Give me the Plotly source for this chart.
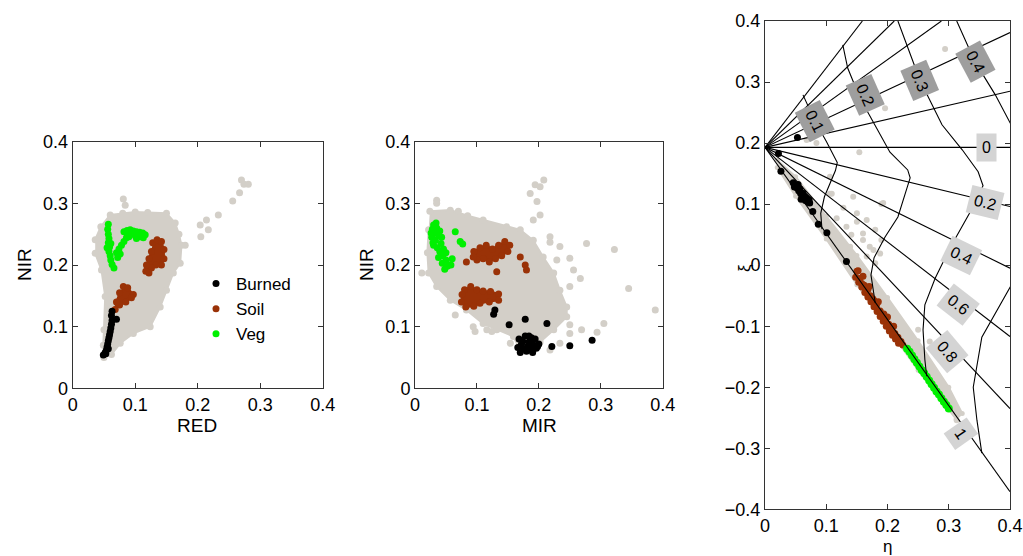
import plotly.graph_objects as go

FONT = "Liberation Sans, Arial, Helvetica, sans-serif"
GRAY = "#d3cfc8"
BROWN = "#9a3207"
GREEN = "#00f000"
BLACK = "#000000"

TICK_VALS_POS = [0, 0.1, 0.2, 0.3, 0.4]
TICK_TEXT_POS = ["0", "0.1", "0.2", "0.3", "0.4"]
TICK_VALS_XI = [-0.4, -0.3, -0.2, -0.1, 0, 0.1, 0.2, 0.3, 0.4]
TICK_TEXT_XI = ["\u22120.4", "\u22120.3", "\u22120.2", "\u22120.1", "0", "0.1", "0.2", "0.3", "0.4"]

# ---------------- Panel 1 : RED vs NIR ----------------
P1_CLOUD_RED = [0.036, 0.045, 0.060, 0.080, 0.100, 0.120, 0.150, 0.164, 0.170, 0.174, 0.172, 0.161,
                0.150, 0.140, 0.124, 0.097, 0.076, 0.062, 0.050, 0.049, 0.050, 0.052, 0.046, 0.036]
P1_CLOUD_NIR = [0.241, 0.262, 0.281, 0.284, 0.286, 0.285, 0.284, 0.268, 0.250, 0.232, 0.203, 0.187,
                0.159, 0.132, 0.100, 0.089, 0.073, 0.055, 0.050, 0.070, 0.095, 0.149, 0.192, 0.219]
P1_GRAY_RED = [0.081, 0.084, 0.204, 0.205, 0.214, 0.217, 0.233, 0.256, 0.267, 0.270, 0.274, 0.281, 0.180]
P1_GRAY_NIR = [0.307, 0.297, 0.265, 0.246, 0.273, 0.257, 0.281, 0.304, 0.317, 0.338, 0.331, 0.331, 0.232]

P1_BURN_RED = [0.049, 0.052, 0.054, 0.055, 0.056, 0.057, 0.058, 0.059, 0.060, 0.061, 0.062, 0.063,
               0.062, 0.063, 0.070, 0.053, 0.057]
P1_BURN_NIR = [0.054, 0.058, 0.062, 0.067, 0.072, 0.077, 0.082, 0.087, 0.092, 0.098, 0.104, 0.110,
               0.118, 0.125, 0.112, 0.056, 0.064]

P1_SOIL_A_RED = [0.128, 0.135, 0.142, 0.146, 0.146, 0.142, 0.133, 0.126, 0.122, 0.117, 0.118, 0.122, 0.126]
P1_SOIL_A_NIR = [0.236, 0.241, 0.238, 0.225, 0.210, 0.200, 0.200, 0.195, 0.187, 0.190, 0.200, 0.210, 0.222]
P1_SOIL_B_RED = [0.081, 0.088, 0.097, 0.094, 0.085, 0.075, 0.068, 0.070, 0.075]
P1_SOIL_B_NIR = [0.165, 0.163, 0.152, 0.147, 0.140, 0.135, 0.128, 0.140, 0.155]

P1_VEG_RED = [0.057, 0.056, 0.057, 0.058, 0.057, 0.059, 0.058, 0.060, 0.061, 0.063, 0.066, 0.055, 0.061,
              0.070, 0.074, 0.078, 0.082, 0.086, 0.090, 0.072, 0.076,
              0.082, 0.087, 0.092, 0.097, 0.102, 0.107, 0.112, 0.116, 0.090, 0.100, 0.108, 0.113, 0.102]
P1_VEG_NIR = [0.266, 0.258, 0.250, 0.243, 0.236, 0.229, 0.222, 0.215, 0.208, 0.201, 0.195, 0.228, 0.235,
              0.220, 0.226, 0.232, 0.238, 0.244, 0.250, 0.212, 0.218,
              0.254, 0.256, 0.257, 0.255, 0.254, 0.253, 0.252, 0.249, 0.246, 0.248, 0.246, 0.244, 0.243]

# ---------------- Panel 2 : MIR vs NIR ----------------
P2_CLOUD_MIR = [0.024, 0.057, 0.085, 0.110, 0.148, 0.170, 0.191, 0.207, 0.224, 0.234, 0.245, 0.245,
                0.224, 0.202, 0.190, 0.170, 0.159, 0.132, 0.110, 0.083, 0.057, 0.035, 0.022, 0.020, 0.022]
P2_CLOUD_NIR = [0.287, 0.289, 0.280, 0.273, 0.262, 0.257, 0.240, 0.213, 0.187, 0.159, 0.132, 0.116,
                0.095, 0.075, 0.060, 0.062, 0.084, 0.095, 0.105, 0.127, 0.143, 0.165, 0.187, 0.220, 0.257]
P2_GRAY_MIR = [0.194, 0.208, 0.186, 0.202, 0.197, 0.202, 0.191, 0.218, 0.218, 0.234, 0.229, 0.250,
               0.256, 0.267, 0.250, 0.277, 0.322, 0.345, 0.388, 0.305, 0.294, 0.269, 0.250, 0.250,
               0.218, 0.234, 0.065, 0.094, 0.097, 0.116, 0.124, 0.154, 0.035, 0.035, 0.011, 0.070]
P2_GRAY_NIR = [0.330, 0.338, 0.316, 0.327, 0.303, 0.281, 0.273, 0.246, 0.237, 0.230, 0.208, 0.211,
               0.192, 0.178, 0.165, 0.235, 0.225, 0.162, 0.127, 0.105, 0.091, 0.095, 0.103, 0.089,
               0.062, 0.073, 0.119, 0.100, 0.092, 0.095, 0.092, 0.073, 0.305, 0.300, 0.187, 0.287]

P2_BURN_MIR = [0.129, 0.127, 0.152, 0.178, 0.213, 0.221, 0.250, 0.286,
               0.168, 0.172, 0.176, 0.180, 0.184, 0.188, 0.192, 0.196, 0.200, 0.170, 0.178, 0.186,
               0.194, 0.182, 0.190, 0.174, 0.198, 0.184, 0.166, 0.188]
P2_BURN_NIR = [0.127, 0.120, 0.103, 0.112, 0.105, 0.068, 0.069, 0.078,
               0.080, 0.072, 0.064, 0.060, 0.075, 0.082, 0.070, 0.065, 0.072, 0.058, 0.085, 0.062,
               0.080, 0.068, 0.058, 0.076, 0.068, 0.085, 0.066, 0.075]

P2_SOIL_A_MIR = [0.095, 0.105, 0.115, 0.125, 0.135, 0.145, 0.153, 0.150, 0.140, 0.130, 0.120, 0.110, 0.100, 0.094]
P2_SOIL_A_NIR = [0.222, 0.228, 0.232, 0.226, 0.232, 0.238, 0.232, 0.222, 0.215, 0.210, 0.205, 0.210, 0.208, 0.213]
P2_SOIL_B_MIR = [0.080, 0.090, 0.100, 0.110, 0.122, 0.135, 0.135, 0.120, 0.105, 0.095, 0.082, 0.075, 0.076]
P2_SOIL_B_NIR = [0.160, 0.165, 0.160, 0.158, 0.157, 0.153, 0.143, 0.140, 0.138, 0.133, 0.132, 0.140, 0.152]
P2_SOIL_PTS_MIR = [0.083, 0.132, 0.170, 0.178, 0.180]
P2_SOIL_PTS_NIR = [0.205, 0.189, 0.213, 0.200, 0.192]

P2_VEG_MIR = [0.030, 0.028, 0.032, 0.027, 0.033, 0.038, 0.030, 0.036, 0.042, 0.040, 0.045, 0.038, 0.050,
              0.044, 0.052, 0.048, 0.055, 0.035, 0.040, 0.046, 0.065, 0.073, 0.077, 0.058, 0.050, 0.029,
              0.034, 0.026, 0.043, 0.060]
P2_VEG_NIR = [0.265, 0.258, 0.252, 0.245, 0.240, 0.248, 0.232, 0.228, 0.235, 0.222, 0.215, 0.212, 0.208,
              0.203, 0.198, 0.193, 0.200, 0.260, 0.255, 0.226, 0.254, 0.238, 0.234, 0.200, 0.220, 0.236,
              0.268, 0.252, 0.245, 0.210]

# ---------------- Panel 3 : eta vs xi ----------------
FOCAL_ETA = 0.0
FOCAL_XI = 0.193
RAY_END_ETA = [0.400, 0.400, 0.288, 0.211, 0.159, 0.400, 0.400, 0.400, 0.400, 0.400, 0.400]
RAY_END_XI = [0.285, 0.381, 0.400, 0.400, 0.400, 0.193, 0.096, -0.005, -0.117, -0.235, -0.371]

CURVE_01_ETA = [0.062, 0.072, 0.082, 0.100, 0.112, 0.118, 0.115, 0.105, 0.097, 0.091, 0.093]
CURVE_01_XI = [0.279, 0.257, 0.235, 0.203, 0.180, 0.168, 0.155, 0.132, 0.112, 0.085, 0.059]
CURVE_02_ETA = [0.127, 0.135, 0.155, 0.204, 0.233, 0.237, 0.217, 0.196, 0.178, 0.173, 0.180]
CURVE_02_XI = [0.361, 0.323, 0.274, 0.185, 0.156, 0.143, 0.079, 0.046, 0.012, -0.016, -0.062]
CURVE_03_ETA = [0.217, 0.253, 0.289, 0.322, 0.348, 0.356, 0.344, 0.335, 0.302, 0.278, 0.261, 0.258, 0.261, 0.264]
CURVE_03_XI = [0.400, 0.303, 0.230, 0.189, 0.153, 0.130, 0.107, 0.087, 0.028, -0.021, -0.065, -0.106, -0.155, -0.182]
CURVE_04A_ETA = [0.313, 0.343, 0.376, 0.400, 0.415]
CURVE_04A_XI = [0.400, 0.333, 0.279, 0.235, 0.205]
CURVE_04B_ETA = [0.415, 0.400, 0.354, 0.340, 0.346, 0.354]
CURVE_04B_XI = [-0.010, -0.036, -0.118, -0.200, -0.254, -0.308]

P3_BAND_ETA = [0.020, 0.050, 0.100, 0.150, 0.200, 0.250, 0.300, 0.322, 0.312, 0.250, 0.200, 0.150, 0.100, 0.050, 0.020]
P3_BAND_XI = [0.172, 0.145, 0.080, 0.016, -0.053, -0.124, -0.200, -0.243, -0.252, -0.172, -0.102, -0.032, 0.043, 0.113, 0.160]
P3_GRAY_ETA = [0.294, 0.196, 0.154, 0.084, 0.068, 0.109, 0.128, 0.190, 0.106, 0.193, 0.117, 0.133, 0.150,
               0.141, 0.160, 0.139, 0.177, 0.166, 0.180, 0.106, 0.144, 0.150, 0.166, 0.180, 0.190, 0.160,
               0.171, 0.188, 0.269, 0.250, 0.313]
P3_GRAY_XI = [0.354, 0.257, 0.185, 0.200, 0.205, 0.117, 0.094, 0.100, 0.117, 0.102, 0.077, 0.063, 0.071,
              0.050, 0.041, 0.030, 0.025, 0.014, 0.003, 0.145, 0.112, 0.085, 0.074, 0.058, 0.041, 0.052,
              0.030, 0.019, -0.125, -0.106, -0.254]
P3_BURN_ETA = [0.053, 0.022, 0.026, 0.046, 0.050, 0.052, 0.055, 0.058, 0.060, 0.063, 0.066, 0.070, 0.073,
               0.048, 0.054, 0.057, 0.062, 0.065, 0.068, 0.059, 0.072, 0.078, 0.087, 0.101, 0.133]
P3_BURN_XI = [0.209, 0.183, 0.154, 0.135, 0.130, 0.127, 0.122, 0.118, 0.115, 0.110, 0.106, 0.104, 0.102,
              0.128, 0.132, 0.125, 0.118, 0.113, 0.110, 0.108, 0.107, 0.088, 0.067, 0.053, 0.006]
P3_SOIL_ETA = [0.152, 0.160, 0.150, 0.155, 0.162, 0.168, 0.172, 0.178, 0.182, 0.188, 0.192, 0.197, 0.202,
               0.207, 0.212, 0.217, 0.222, 0.225, 0.170, 0.185, 0.200, 0.210, 0.158, 0.176, 0.194,
               0.148, 0.153, 0.158, 0.163, 0.168, 0.173, 0.178, 0.183, 0.188, 0.193, 0.198, 0.203,
               0.208, 0.213, 0.218]
P3_SOIL_XI = [-0.009, -0.018, -0.010, -0.022, -0.033, -0.040, -0.050, -0.058, -0.066, -0.075, -0.083,
              -0.090, -0.097, -0.105, -0.112, -0.118, -0.125, -0.131, -0.035, -0.060, -0.085, -0.100,
              -0.030, -0.055, -0.080,
              -0.020, -0.028, -0.036, -0.045, -0.052, -0.060, -0.068, -0.076, -0.084, -0.092, -0.100,
              -0.108, -0.115, -0.121, -0.128]
P3_VEG_ETA = [0.232, 0.236, 0.240, 0.244, 0.248, 0.252, 0.256, 0.260, 0.264, 0.268, 0.272, 0.276, 0.280,
              0.284, 0.288, 0.292, 0.296, 0.300]
P3_VEG_XI = [-0.137, -0.142, -0.148, -0.154, -0.160, -0.166, -0.172, -0.177, -0.183, -0.189, -0.195,
             -0.201, -0.207, -0.212, -0.218, -0.224, -0.229, -0.235]

RAY_LABELS = ["0", "0.2", "0.4", "0.6", "0.8", "1"]
RAY_LABEL_ETA = [0.362, 0.359, 0.320, 0.315, 0.297, 0.320]
RAY_LABEL_XI = [0.192, 0.102, 0.015, -0.065, -0.142, -0.275]
RAY_LABEL_ANGLE = [0, 14, 26, 38, 50, 55]
CURVE_LABELS = ["0.1", "0.2", "0.3", "0.4"]
CURVE_LABEL_ETA = [0.082, 0.163, 0.253, 0.343]
CURVE_LABEL_XI = [0.236, 0.279, 0.303, 0.333]
CURVE_LABEL_ANGLE = [63, 66, 67, 62]

fig = go.Figure()


def pts(x, y, color, size, xa, ya, name=None, legend=False, rank=None):
    fig.add_trace(go.Scatter(x=x, y=y, mode="markers", xaxis=xa, yaxis=ya, name=name,
                             showlegend=legend, legendrank=rank if rank else 1000,
                             marker=dict(color=color, size=size, line=dict(width=0)),
                             hoverinfo="skip"))


def blob(x, y, color, size, xa, ya):
    fig.add_trace(go.Scatter(x=x, y=y, mode="lines+markers", fill="toself", fillcolor=color,
                             xaxis=xa, yaxis=ya, showlegend=False,
                             line=dict(color=color, width=2),
                             marker=dict(color=color, size=size, line=dict(width=0)),
                             hoverinfo="skip"))


def line(x, y, xa, ya):
    fig.add_trace(go.Scatter(x=x, y=y, mode="lines", xaxis=xa, yaxis=ya, showlegend=False,
                             line=dict(color="black", width=1.1), hoverinfo="skip"))


# Panel 1
blob(P1_CLOUD_RED, P1_CLOUD_NIR, GRAY, 7, "x", "y")
pts(P1_GRAY_RED, P1_GRAY_NIR, GRAY, 7, "x", "y")
blob(P1_SOIL_A_RED, P1_SOIL_A_NIR, BROWN, 7, "x", "y")
blob(P1_SOIL_B_RED, P1_SOIL_B_NIR, BROWN, 7, "x", "y")
pts(P1_VEG_RED, P1_VEG_NIR, GREEN, 7, "x", "y", "Veg", True, 3)
pts(P1_BURN_RED, P1_BURN_NIR, BLACK, 7, "x", "y", "Burned", True, 1)
pts([None], [None], BROWN, 7, "x", "y", "Soil", True, 2)

# Panel 2
blob(P2_CLOUD_MIR, P2_CLOUD_NIR, GRAY, 7, "x2", "y2")
pts(P2_GRAY_MIR, P2_GRAY_NIR, GRAY, 7, "x2", "y2")
blob(P2_SOIL_A_MIR, P2_SOIL_A_NIR, BROWN, 7, "x2", "y2")
blob(P2_SOIL_B_MIR, P2_SOIL_B_NIR, BROWN, 7, "x2", "y2")
pts(P2_SOIL_PTS_MIR, P2_SOIL_PTS_NIR, BROWN, 7, "x2", "y2")
pts(P2_VEG_MIR, P2_VEG_NIR, GREEN, 7, "x2", "y2")
pts(P2_BURN_MIR, P2_BURN_NIR, BLACK, 7, "x2", "y2")

# Panel 3
blob(P3_BAND_ETA, P3_BAND_XI, GRAY, 5, "x3", "y3")
pts(P3_GRAY_ETA, P3_GRAY_XI, GRAY, 6, "x3", "y3")
pts(P3_SOIL_ETA, P3_SOIL_XI, BROWN, 7, "x3", "y3")
pts(P3_VEG_ETA, P3_VEG_XI, GREEN, 8, "x3", "y3")
pts(P3_BURN_ETA, P3_BURN_XI, BLACK, 7, "x3", "y3")
for ex, ey in zip(RAY_END_ETA, RAY_END_XI):
    line([FOCAL_ETA, ex], [FOCAL_XI, ey], "x3", "y3")
for cx, cy in [(CURVE_01_ETA, CURVE_01_XI), (CURVE_02_ETA, CURVE_02_XI), (CURVE_03_ETA, CURVE_03_XI),
               (CURVE_04A_ETA, CURVE_04A_XI), (CURVE_04B_ETA, CURVE_04B_XI)]:
    line(cx, cy, "x3", "y3")

annotations = []
for t, ax_, ay_, ang in zip(RAY_LABELS, RAY_LABEL_ETA, RAY_LABEL_XI, RAY_LABEL_ANGLE):
    annotations.append(dict(x=ax_, y=ay_, xref="x3", yref="y3", text=t, showarrow=False,
                            xanchor="center", yanchor="middle",
                            textangle=ang, bgcolor="#d4d4d4", borderpad=5,
                            font=dict(family=FONT, size=16, color="black")))
for t, ax_, ay_, ang in zip(CURVE_LABELS, CURVE_LABEL_ETA, CURVE_LABEL_XI, CURVE_LABEL_ANGLE):
    annotations.append(dict(x=ax_, y=ay_, xref="x3", yref="y3", text=t, showarrow=False,
                            xanchor="center", yanchor="middle",
                            textangle=ang, bgcolor="#9e9e9e", borderpad=5,
                            font=dict(family=FONT, size=16, color="black")))

W, H = 1023, 556


def px(xp, yp):
    return xp / W, 1 - yp / H


for txt, (xx, yy), ang, size in [("RED", (197, 425), 0, 19), ("MIR", (539, 425), 0, 19),
                                 ("NIR", (25, 265), -90, 19), ("NIR", (367, 265), -90, 19),
                                 ("\u03b7", (887, 546), 0, 17), ("\u03be", (744, 268), -90, 17)]:
    fx, fy = px(xx, yy)
    annotations.append(dict(x=fx, y=fy, xref="paper", yref="paper", text=txt, showarrow=False,
                            xanchor="center", yanchor="middle",
                            textangle=ang, font=dict(family=FONT, size=size, color="black")))


def axis(domain, rng, vals, texts):
    return dict(domain=domain, range=rng, tickmode="array", tickvals=vals, ticktext=texts,
                automargin=False, ticklabelstandoff=0,
                showgrid=False, zeroline=False, showline=True, linecolor="#333", linewidth=1,
                mirror="ticks", ticks="inside", ticklen=5, tickcolor="#333",
                tickfont=dict(family=FONT, size=18, color="black"), fixedrange=True)


fig.update_layout(
    width=W, height=H, margin=dict(l=0, r=0, t=0, b=0, autoexpand=False),
    paper_bgcolor="white", plot_bgcolor="white",
    xaxis=axis([72.7 / W, 322.7 / W], [0, 0.4], TICK_VALS_POS, TICK_TEXT_POS) | dict(anchor="y"),
    yaxis=axis([1 - 388.3 / H, 1 - 141.7 / H], [0, 0.4], TICK_VALS_POS, TICK_TEXT_POS) | dict(anchor="x"),
    xaxis2=axis([415 / W, 662.7 / W], [0, 0.4], TICK_VALS_POS, TICK_TEXT_POS) | dict(anchor="y2"),
    yaxis2=axis([1 - 388.3 / H, 1 - 141.7 / H], [0, 0.4], TICK_VALS_POS, TICK_TEXT_POS) | dict(anchor="x2"),
    xaxis3=axis([765 / W, 1010 / W], [0, 0.4], TICK_VALS_POS, TICK_TEXT_POS) | dict(anchor="y3"),
    yaxis3=axis([1 - 509.3 / H, 1 - 21 / H], [-0.4, 0.4], TICK_VALS_XI, TICK_TEXT_XI) | dict(anchor="x3"),
    showlegend=True,
    legend=dict(x=196 / W, y=1 - 266 / H, xanchor="left", yanchor="top", bgcolor="rgba(0,0,0,0)",
                font=dict(family=FONT, size=17, color="black"), tracegroupgap=0),
    annotations=annotations,
)

fig.write_html("out.html", config={"displayModeBar": False},
               post_script="document.body.style.margin='0';document.body.style.padding='0';")
